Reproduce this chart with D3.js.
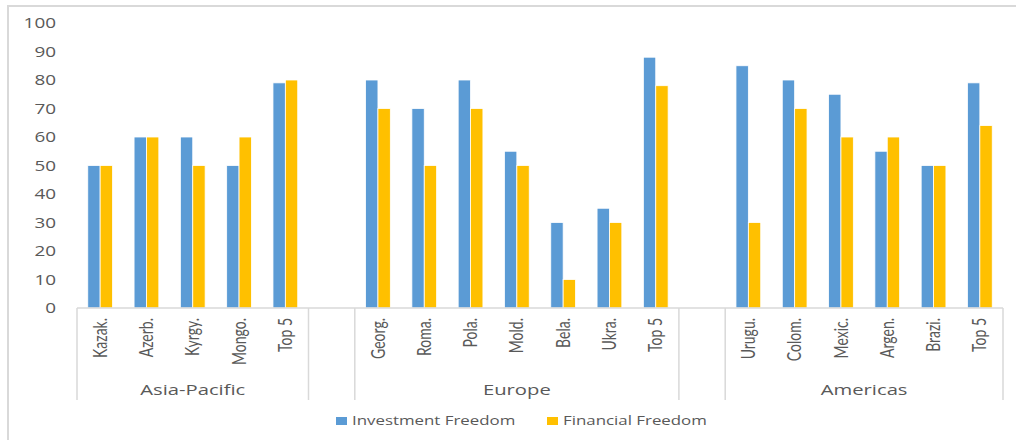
<!DOCTYPE html>
<html>
<head>
<meta charset="utf-8">
<script src="https://cdn.jsdelivr.net/npm/d3@7"></script>
<style>
  body { margin: 0; background: #fff; }
  svg { display: block; }
  .tick-label { font-family: 'Open Sans', sans-serif; font-size: 14px; fill: #595959; }
  .cat-label { font-family: Lato, sans-serif; font-size: 14px; fill: #595959; }
  .group-label { font-family: 'Open Sans', sans-serif; font-size: 15px; fill: #595959; }
  .legend-label { font-family: 'Open Sans', sans-serif; font-size: 12.5px; fill: #595959; }
</style>
</head>
<body>
<svg width="1016" height="440"></svg>
<script>
const regionNames = ['Asia-Pacific', 'Europe', 'Americas'];
const asiaPacific = ['Kazak.', 'Azerb.', 'Kyrgy.', 'Mongo.', 'Top 5'];
const europe = ['Georg.', 'Roma.', 'Pola.', 'Mold.', 'Bela.', 'Ukra.', 'Top 5'];
const americas = ['Urugu.', 'Colom.', 'Mexic.', 'Argen.', 'Brazi.', 'Top 5'];
const seriesNames = ['Investment Freedom', 'Financial Freedom'];
const investmentFreedom = [50, 60, 60, 50, 79, 80, 70, 80, 55, 30, 35, 88, 85, 80, 75, 55, 50, 79];
const financialFreedom = [50, 60, 50, 60, 80, 70, 50, 70, 50, 10, 30, 78, 30, 70, 60, 60, 50, 64];
const yTicks = [0, 10, 20, 30, 40, 50, 60, 70, 80, 90, 100];
const seriesColors = ['#5B9BD5', '#FFC000'];

// the picture is stretched sideways, so text is stretched the same way
const stretch = 1.35;

const buildSlots = () => {
  const regionLists = [asiaPacific, europe, americas];
  const slots = [];
  const groups = [];
  let valueIndex = 0;
  regionLists.forEach((list, r) => {
    const first = slots.length;
    list.forEach((name, i) => {
      slots.push({
        key: `${r}-${i}`,
        name,
        values: [investmentFreedom[valueIndex], financialFreedom[valueIndex]]
      });
      valueIndex++;
    });
    groups.push({ name: regionNames[r], first, last: slots.length - 1 });
    // empty category between the regions
    if (r < regionLists.length - 1) {
      slots.push({ key: `gap-${r}`, name: '', values: null });
      groups.push({ name: '', first: slots.length - 1, last: slots.length - 1 });
    }
  });
  return { slots, groups };
};

const renderChart = () => {
  const svg = d3.select('svg');
  const { slots, groups } = buildSlots();
  const plot = { left: 77, right: 1003, top: 23, bottom: 308 };

  // outer frame (top and left edges only are visible)
  svg.append('path')
    .attr('d', 'M8,440 L8,6 L1016,6')
    .attr('fill', 'none')
    .attr('stroke', '#d9d9d9')
    .attr('stroke-width', 2);

  const xScale = d3.scaleBand()
    .domain(slots.map(s => s.key))
    .range([plot.left, plot.right]);
  const xSub = d3.scaleBand()
    .domain(seriesNames)
    .range([0, xScale.bandwidth()])
    .paddingInner(0)
    .paddingOuter(0.87);
  const yScale = d3.scaleLinear()
    .domain([0, 100])
    .range([plot.bottom, plot.top]);

  // y axis labels only
  const yAxisGroup = svg.append('g')
    .attr('transform', `translate(${plot.left}, 0)`)
    .call(d3.axisLeft(yScale).tickValues(yTicks).tickSize(0).tickPadding(21));
  yAxisGroup.select('.domain').remove();
  yAxisGroup.selectAll('text')
    .attr('class', 'tick-label')
    .attr('font-size', null)
    .attr('font-family', null)
    .attr('fill', null)
    .attr('x', null)
    .attr('dy', '0.35em')
    .attr('transform', `translate(-21, 0) scale(${stretch}, 1)`);

  // bars
  const barData = [];
  slots.filter(s => s.values).forEach(s => {
    s.values.forEach((v, i) => barData.push({ key: s.key, series: seriesNames[i], value: v, color: seriesColors[i] }));
  });
  svg.append('g')
    .selectAll('rect')
    .data(barData)
    .enter()
    .append('rect')
      .attr('x', d => xScale(d.key) + xSub(d.series))
      .attr('y', d => yScale(d.value))
      .attr('width', xSub.bandwidth())
      .attr('height', d => yScale(0) - yScale(d.value))
      .attr('fill', d => d.color)
      .attr('stroke', '#fff')
      .attr('stroke-width', 0.8);

  // category axis
  const axisColor = '#d9d9d9';
  svg.append('line')
    .attr('x1', plot.left).attr('x2', plot.right)
    .attr('y1', plot.bottom).attr('y2', plot.bottom)
    .attr('stroke', axisColor).attr('stroke-width', 1.5);

  const boundaries = [xScale(groups[0].first !== undefined ? slots[0].key : '')]
    .concat(groups.map(g => xScale(slots[g.last].key) + xScale.bandwidth()));
  svg.append('g')
    .selectAll('line')
    .data(boundaries)
    .enter()
    .append('line')
      .attr('x1', d => d).attr('x2', d => d)
      .attr('y1', plot.bottom).attr('y2', 400)
      .attr('stroke', axisColor)
      .attr('stroke-width', 1.5);

  svg.append('g')
    .selectAll('text')
    .data(slots.filter(s => s.name))
    .enter()
    .append('text')
      .attr('class', 'cat-label')
      .attr('text-anchor', 'end')
      .attr('dy', '0.35em')
      .attr('transform', s => `translate(${xScale(s.key) + xScale.bandwidth() / 2}, 318) scale(${stretch}, 1) rotate(-90)`)
      .text(s => s.name);

  svg.append('g')
    .selectAll('text')
    .data(groups.filter(g => g.name))
    .enter()
    .append('text')
      .attr('class', 'group-label')
      .attr('text-anchor', 'middle')
      .attr('transform', g => {
        const x0 = xScale(slots[g.first].key);
        const x1 = xScale(slots[g.last].key) + xScale.bandwidth();
        return `translate(${(x0 + x1) / 2}, 395) scale(${stretch}, 1)`;
      })
      .text(g => g.name);

  // legend
  const legendX = [336, 547];
  const legend = svg.append('g')
    .selectAll('g')
    .data(seriesNames)
    .enter()
    .append('g')
      .attr('transform', (d, i) => `translate(${legendX[i]}, 417)`);
  legend.append('rect')
    .attr('width', 11)
    .attr('height', 8)
    .attr('fill', (d, i) => seriesColors[i]);
  legend.append('text')
    .attr('class', 'legend-label')
    .attr('transform', `translate(16, 7.5) scale(${stretch}, 1)`)
    .text(d => d);
};

renderChart();
</script>
</body>
</html>
